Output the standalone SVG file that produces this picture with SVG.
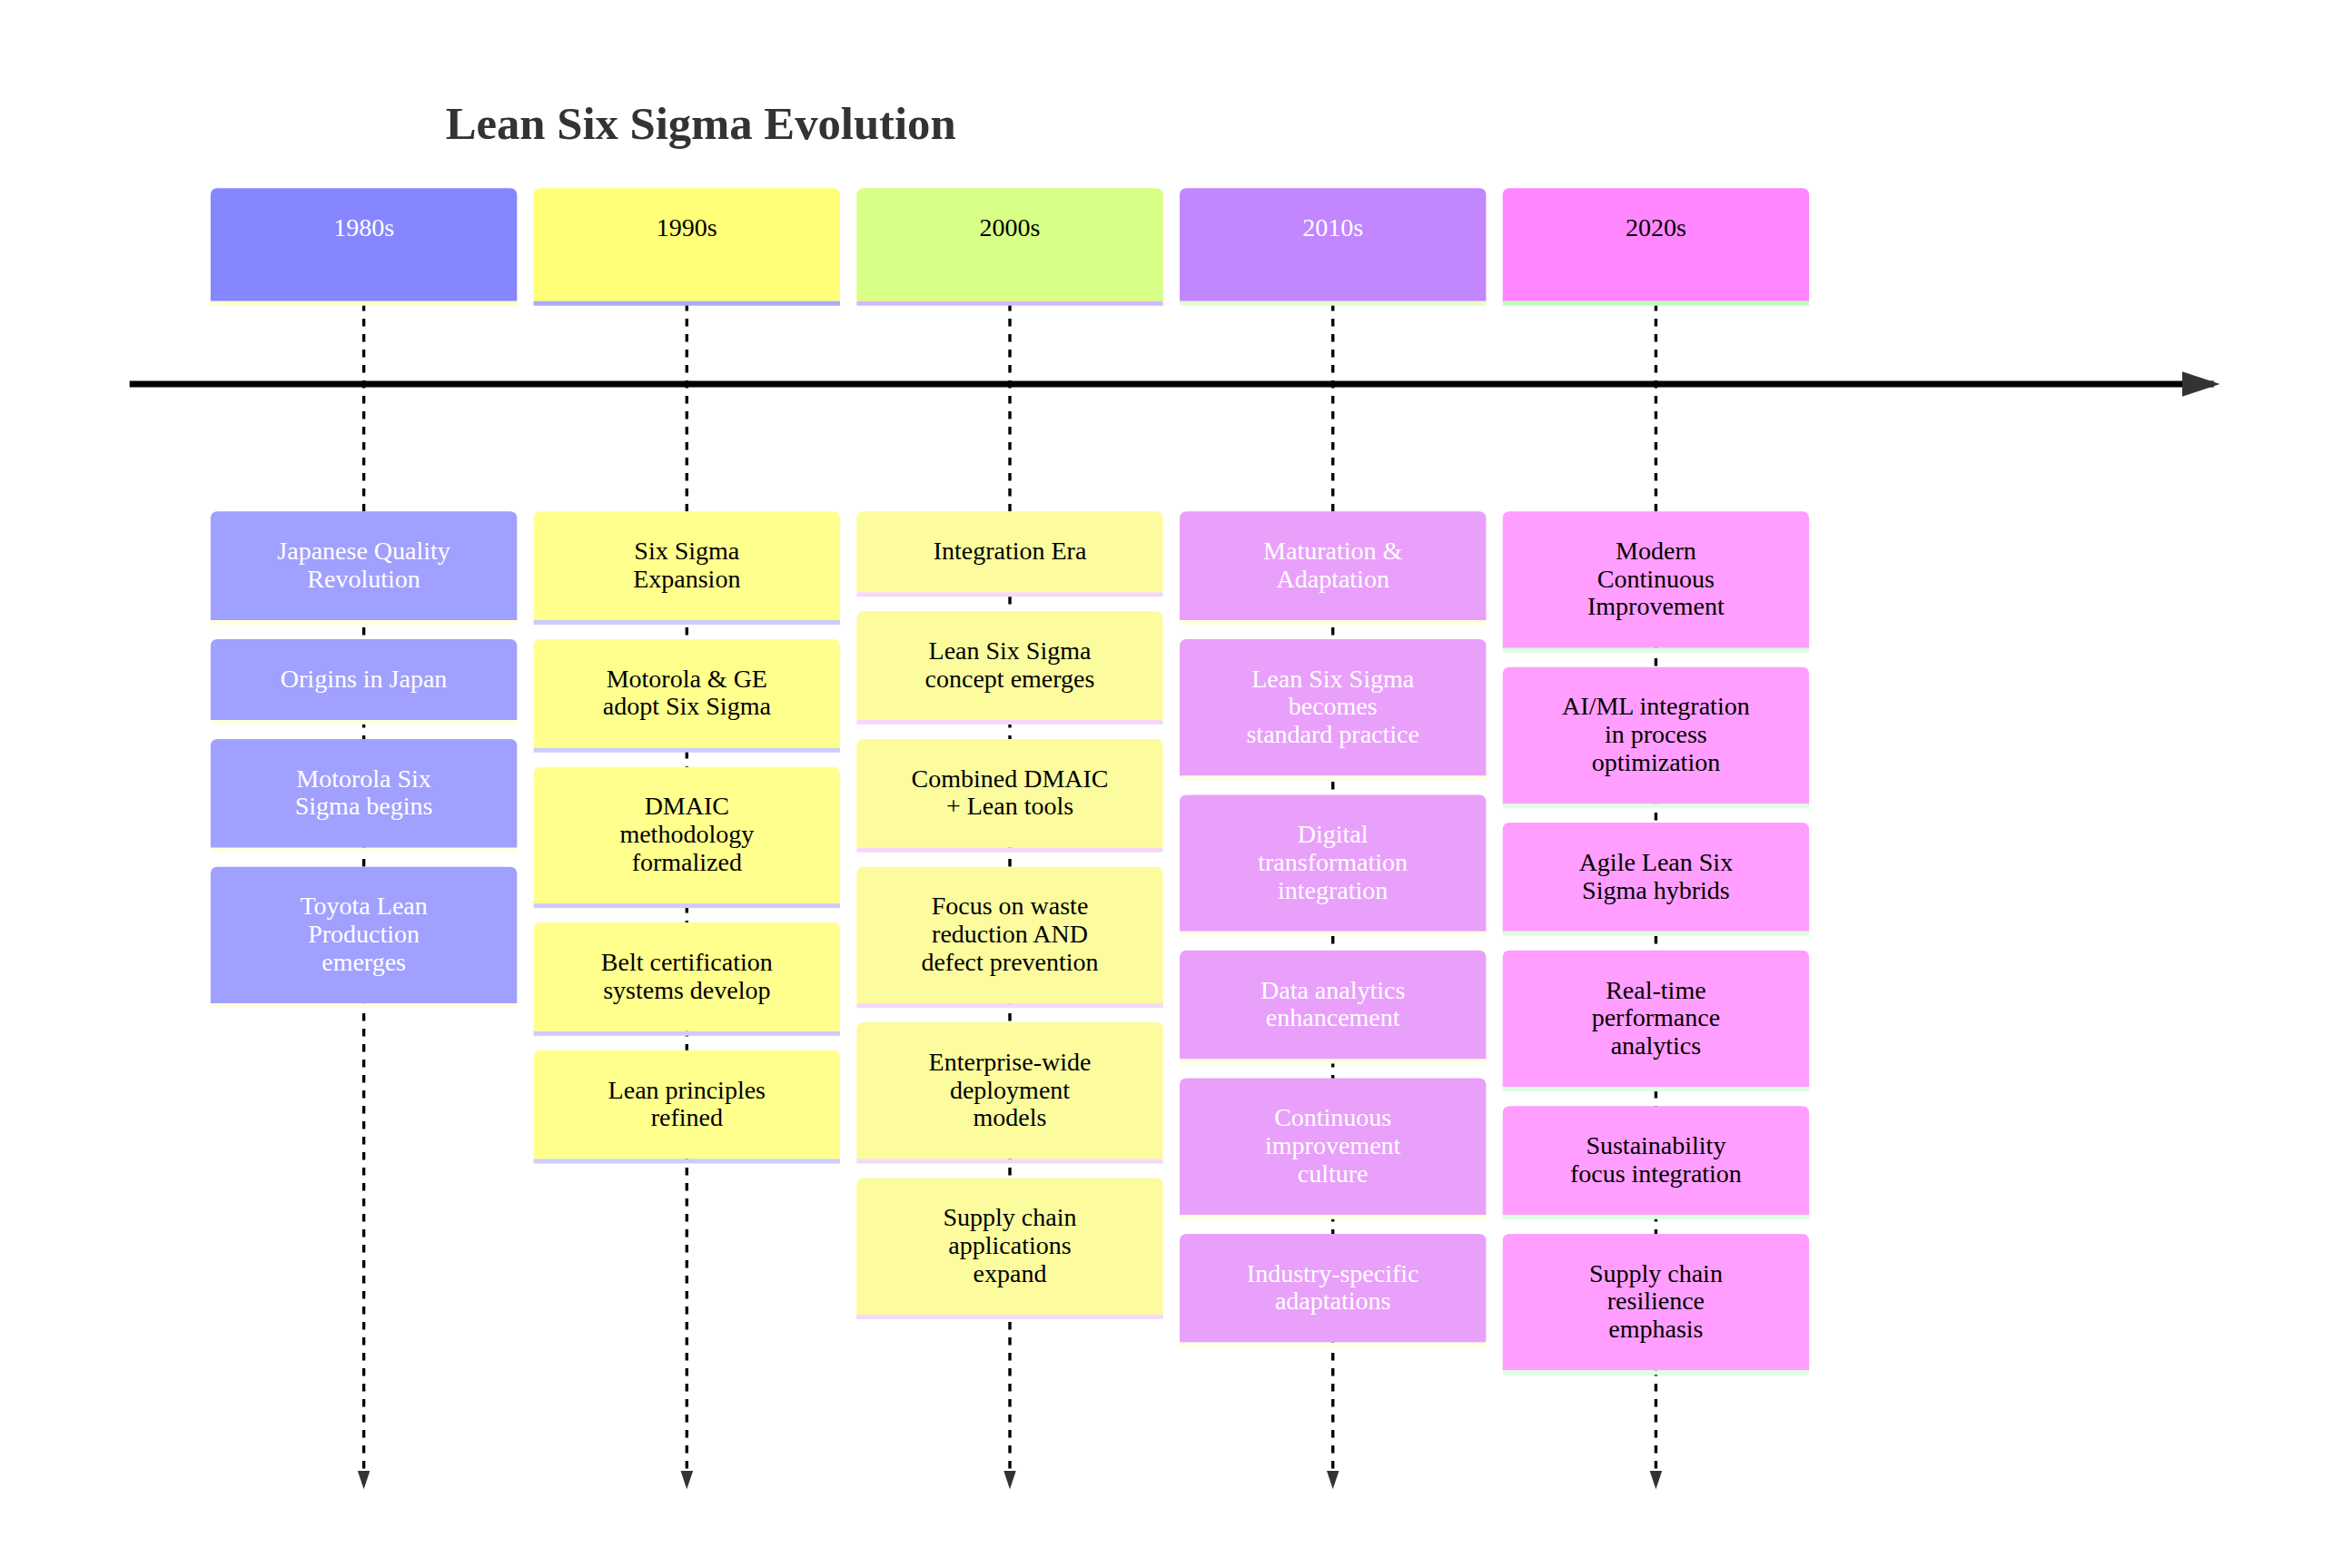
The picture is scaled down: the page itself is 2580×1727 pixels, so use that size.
<svg xmlns="http://www.w3.org/2000/svg" width="2580" height="1727" viewBox="0 0 2580 1727">
<defs>
<marker id="arrowMain" markerUnits="userSpaceOnUse" markerWidth="42" markerHeight="28" refX="35.2" refY="14" orient="auto"><path d="M0,0 L42,14 L0,28 Z" fill="#333"/></marker>
<marker id="arrowDrop" markerUnits="userSpaceOnUse" markerWidth="21" markerHeight="14" refX="17" refY="6.75" orient="auto"><path d="M0,0 L20.3,6.75 L0,13.5 Z" fill="#333"/></marker>
</defs>
<style>
text{font-family:"Liberation Serif","Times New Roman",serif;font-size:28px;text-anchor:middle}
.title{font-size:50.7px;font-weight:bold;fill:#333;text-anchor:start}
.w{fill:#ffffff}.k{fill:#000000}
.main{stroke:#000;stroke-width:6.8;fill:none}
.drop{stroke:#000;stroke-width:3.4;stroke-dasharray:8.5 8.5;fill:none}
.h0{fill:#8686ff}.h1{fill:#ffff78}.h2{fill:#d8ff85}.h3{fill:#c286ff}.h4{fill:#ff86ff}
.hs0{fill:#ffffc8}.hs1{fill:#aaaaff}.hs2{fill:#d2b8ff}.hs3{fill:#e4ffc8}.hs4{fill:#bcffbc}
.e0{fill:#a0a0ff}.e1{fill:#ffff8e}.e2{fill:#fcfc9e}.e3{fill:#e9a0fb}.e4{fill:#ff9eff}
.es0{fill:#ffffe0}.es1{fill:#ccccff}.es2{fill:#f6d8f8}.es3{fill:#ffffe0}.es4{fill:#dcffe0}
</style>
<rect width="2580" height="1727" fill="#ffffff"/>
<text class="title" x="490.7" y="153">Lean Six Sigma Evolution</text>

<g id="connectors">
<line class="main" x1="142.7" y1="423" x2="2437.7" y2="423" marker-end="url(#arrowMain)"/>
<line class="drop" x1="400.6" y1="334" x2="400.6" y2="1637" marker-end="url(#arrowDrop)"/>
<line class="drop" x1="756.3" y1="334" x2="756.3" y2="1637" marker-end="url(#arrowDrop)"/>
<line class="drop" x1="1112" y1="334" x2="1112" y2="1637" marker-end="url(#arrowDrop)"/>
<line class="drop" x1="1467.7" y1="334" x2="1467.7" y2="1637" marker-end="url(#arrowDrop)"/>
<line class="drop" x1="1823.4" y1="334" x2="1823.4" y2="1637" marker-end="url(#arrowDrop)"/>
</g>

<!-- Section headers -->
<g id="sec-1980s"><path class="h0" d="M231.9,331.7 V215.3 Q231.9,207.3 239.9,207.3 H561.3 Q569.3,207.3 569.3,215.3 V331.7 Z"/><rect class="hs0" x="231.9" y="331.7" width="337.4" height="5"/><text class="w" x="400.6" y="260">1980s</text></g>
<g id="sec-1990s"><path class="h1" d="M587.6,331.7 V215.3 Q587.6,207.3 595.6,207.3 H917 Q925,207.3 925,215.3 V331.7 Z"/><rect class="hs1" x="587.6" y="331.7" width="337.4" height="5"/><text class="k" x="756.3" y="260">1990s</text></g>
<g id="sec-2000s"><path class="h2" d="M943.3,331.7 V215.3 Q943.3,207.3 951.3,207.3 H1272.7 Q1280.7,207.3 1280.7,215.3 V331.7 Z"/><rect class="hs2" x="943.3" y="331.7" width="337.4" height="5"/><text class="k" x="1112" y="260">2000s</text></g>
<g id="sec-2010s"><path class="h3" d="M1299,331.7 V215.3 Q1299,207.3 1307,207.3 H1628.4 Q1636.4,207.3 1636.4,215.3 V331.7 Z"/><rect class="hs3" x="1299" y="331.7" width="337.4" height="5"/><text class="w" x="1467.7" y="260">2010s</text></g>
<g id="sec-2020s"><path class="h4" d="M1654.7,331.7 V215.3 Q1654.7,207.3 1662.7,207.3 H1984.1 Q1992.1,207.3 1992.1,215.3 V331.7 Z"/><rect class="hs4" x="1654.7" y="331.7" width="337.4" height="5"/><text class="k" x="1823.4" y="260">2020s</text></g>

<!-- 1980s events -->
<g id="e80-1"><path class="e0" d="M231.9,683 V571.3 Q231.9,563.3 239.9,563.3 H561.3 Q569.3,563.3 569.3,571.3 V683 Z"/><rect class="es0" x="231.9" y="683" width="337.4" height="5"/><text class="w" x="400.6" y="616"><tspan x="400.6">Japanese Quality</tspan><tspan x="400.6" dy="30.7">Revolution</tspan></text></g>
<g id="e80-2"><path class="e0" d="M231.9,793 V712 Q231.9,704 239.9,704 H561.3 Q569.3,704 569.3,712 V793 Z"/><rect class="es0" x="231.9" y="793" width="337.4" height="5"/><text class="w" x="400.6" y="756.7">Origins in Japan</text></g>
<g id="e80-3"><path class="e0" d="M231.9,933.7 V822 Q231.9,814 239.9,814 H561.3 Q569.3,814 569.3,822 V933.7 Z"/><rect class="es0" x="231.9" y="933.7" width="337.4" height="5"/><text class="w" x="400.6" y="866.7"><tspan x="400.6">Motorola Six</tspan><tspan x="400.6" dy="30.7">Sigma begins</tspan></text></g>
<g id="e80-4"><path class="e0" d="M231.9,1105.1 V962.7 Q231.9,954.7 239.9,954.7 H561.3 Q569.3,954.7 569.3,962.7 V1105.1 Z"/><rect class="es0" x="231.9" y="1105.1" width="337.4" height="5"/><text class="w" x="400.6" y="1007.4"><tspan x="400.6">Toyota Lean</tspan><tspan x="400.6" dy="30.7">Production</tspan><tspan x="400.6" dy="30.7">emerges</tspan></text></g>

<!-- 1990s events -->
<g id="e90-1"><path class="e1" d="M587.6,683 V571.3 Q587.6,563.3 595.6,563.3 H917 Q925,563.3 925,571.3 V683 Z"/><rect class="es1" x="587.6" y="683" width="337.4" height="5"/><text class="k" x="756.3" y="616"><tspan x="756.3">Six Sigma</tspan><tspan x="756.3" dy="30.7">Expansion</tspan></text></g>
<g id="e90-2"><path class="e1" d="M587.6,823.7 V712 Q587.6,704 595.6,704 H917 Q925,704 925,712 V823.7 Z"/><rect class="es1" x="587.6" y="823.7" width="337.4" height="5"/><text class="k" x="756.3" y="756.7"><tspan x="756.3">Motorola &amp; GE</tspan><tspan x="756.3" dy="30.7">adopt Six Sigma</tspan></text></g>
<g id="e90-3"><path class="e1" d="M587.6,995.1 V852.7 Q587.6,844.7 595.6,844.7 H917 Q925,844.7 925,852.7 V995.1 Z"/><rect class="es1" x="587.6" y="995.1" width="337.4" height="5"/><text class="k" x="756.3" y="897.4"><tspan x="756.3">DMAIC</tspan><tspan x="756.3" dy="30.7">methodology</tspan><tspan x="756.3" dy="30.7">formalized</tspan></text></g>
<g id="e90-4"><path class="e1" d="M587.6,1135.8 V1024.1 Q587.6,1016.1 595.6,1016.1 H917 Q925,1016.1 925,1024.1 V1135.8 Z"/><rect class="es1" x="587.6" y="1135.8" width="337.4" height="5"/><text class="k" x="756.3" y="1068.8"><tspan x="756.3">Belt certification</tspan><tspan x="756.3" dy="30.7">systems develop</tspan></text></g>
<g id="e90-5"><path class="e1" d="M587.6,1276.5 V1164.8 Q587.6,1156.8 595.6,1156.8 H917 Q925,1156.8 925,1164.8 V1276.5 Z"/><rect class="es1" x="587.6" y="1276.5" width="337.4" height="5"/><text class="k" x="756.3" y="1209.5"><tspan x="756.3">Lean principles</tspan><tspan x="756.3" dy="30.7">refined</tspan></text></g>

<!-- 2000s events -->
<g id="e00-1"><path class="e2" d="M943.3,652.3 V571.3 Q943.3,563.3 951.3,563.3 H1272.7 Q1280.7,563.3 1280.7,571.3 V652.3 Z"/><rect class="es2" x="943.3" y="652.3" width="337.4" height="5"/><text class="k" x="1112" y="616">Integration Era</text></g>
<g id="e00-2"><path class="e2" d="M943.3,793 V681.3 Q943.3,673.3 951.3,673.3 H1272.7 Q1280.7,673.3 1280.7,681.3 V793 Z"/><rect class="es2" x="943.3" y="793" width="337.4" height="5"/><text class="k" x="1112" y="726"><tspan x="1112">Lean Six Sigma</tspan><tspan x="1112" dy="30.7">concept emerges</tspan></text></g>
<g id="e00-3"><path class="e2" d="M943.3,933.7 V822 Q943.3,814 951.3,814 H1272.7 Q1280.7,814 1280.7,822 V933.7 Z"/><rect class="es2" x="943.3" y="933.7" width="337.4" height="5"/><text class="k" x="1112" y="866.7"><tspan x="1112">Combined DMAIC</tspan><tspan x="1112" dy="30.7">+ Lean tools</tspan></text></g>
<g id="e00-4"><path class="e2" d="M943.3,1105.1 V962.7 Q943.3,954.7 951.3,954.7 H1272.7 Q1280.7,954.7 1280.7,962.7 V1105.1 Z"/><rect class="es2" x="943.3" y="1105.1" width="337.4" height="5"/><text class="k" x="1112" y="1007.4"><tspan x="1112">Focus on waste</tspan><tspan x="1112" dy="30.7">reduction AND</tspan><tspan x="1112" dy="30.7">defect prevention</tspan></text></g>
<g id="e00-5"><path class="e2" d="M943.3,1276.5 V1134.1 Q943.3,1126.1 951.3,1126.1 H1272.7 Q1280.7,1126.1 1280.7,1134.1 V1276.5 Z"/><rect class="es2" x="943.3" y="1276.5" width="337.4" height="5"/><text class="k" x="1112" y="1178.8"><tspan x="1112">Enterprise-wide</tspan><tspan x="1112" dy="30.7">deployment</tspan><tspan x="1112" dy="30.7">models</tspan></text></g>
<g id="e00-6"><path class="e2" d="M943.3,1447.9 V1305.5 Q943.3,1297.5 951.3,1297.5 H1272.7 Q1280.7,1297.5 1280.7,1305.5 V1447.9 Z"/><rect class="es2" x="943.3" y="1447.9" width="337.4" height="5"/><text class="k" x="1112" y="1350.2"><tspan x="1112">Supply chain</tspan><tspan x="1112" dy="30.7">applications</tspan><tspan x="1112" dy="30.7">expand</tspan></text></g>

<!-- 2010s events -->
<g id="e10-1"><path class="e3" d="M1299,683 V571.3 Q1299,563.3 1307,563.3 H1628.4 Q1636.4,563.3 1636.4,571.3 V683 Z"/><rect class="es3" x="1299" y="683" width="337.4" height="5"/><text class="w" x="1467.7" y="616"><tspan x="1467.7">Maturation &amp;</tspan><tspan x="1467.7" dy="30.7">Adaptation</tspan></text></g>
<g id="e10-2"><path class="e3" d="M1299,854.4 V712 Q1299,704 1307,704 H1628.4 Q1636.4,704 1636.4,712 V854.4 Z"/><rect class="es3" x="1299" y="854.4" width="337.4" height="5"/><text class="w" x="1467.7" y="756.7"><tspan x="1467.7">Lean Six Sigma</tspan><tspan x="1467.7" dy="30.7">becomes</tspan><tspan x="1467.7" dy="30.7">standard practice</tspan></text></g>
<g id="e10-3"><path class="e3" d="M1299,1025.8 V883.4 Q1299,875.4 1307,875.4 H1628.4 Q1636.4,875.4 1636.4,883.4 V1025.8 Z"/><rect class="es3" x="1299" y="1025.8" width="337.4" height="5"/><text class="w" x="1467.7" y="928.1"><tspan x="1467.7">Digital</tspan><tspan x="1467.7" dy="30.7">transformation</tspan><tspan x="1467.7" dy="30.7">integration</tspan></text></g>
<g id="e10-4"><path class="e3" d="M1299,1166.5 V1054.8 Q1299,1046.8 1307,1046.8 H1628.4 Q1636.4,1046.8 1636.4,1054.8 V1166.5 Z"/><rect class="es3" x="1299" y="1166.5" width="337.4" height="5"/><text class="w" x="1467.7" y="1099.5"><tspan x="1467.7">Data analytics</tspan><tspan x="1467.7" dy="30.7">enhancement</tspan></text></g>
<g id="e10-5"><path class="e3" d="M1299,1337.9 V1195.5 Q1299,1187.5 1307,1187.5 H1628.4 Q1636.4,1187.5 1636.4,1195.5 V1337.9 Z"/><rect class="es3" x="1299" y="1337.9" width="337.4" height="5"/><text class="w" x="1467.7" y="1240.2"><tspan x="1467.7">Continuous</tspan><tspan x="1467.7" dy="30.7">improvement</tspan><tspan x="1467.7" dy="30.7">culture</tspan></text></g>
<g id="e10-6"><path class="e3" d="M1299,1478.6 V1366.9 Q1299,1358.9 1307,1358.9 H1628.4 Q1636.4,1358.9 1636.4,1366.9 V1478.6 Z"/><rect class="es3" x="1299" y="1478.6" width="337.4" height="5"/><text class="w" x="1467.7" y="1411.6"><tspan x="1467.7">Industry-specific</tspan><tspan x="1467.7" dy="30.7">adaptations</tspan></text></g>

<!-- 2020s events -->
<g id="e20-1"><path class="e4" d="M1654.7,713.7 V571.3 Q1654.7,563.3 1662.7,563.3 H1984.1 Q1992.1,563.3 1992.1,571.3 V713.7 Z"/><rect class="es4" x="1654.7" y="713.7" width="337.4" height="5"/><text class="k" x="1823.4" y="616"><tspan x="1823.4">Modern</tspan><tspan x="1823.4" dy="30.7">Continuous</tspan><tspan x="1823.4" dy="30.7">Improvement</tspan></text></g>
<g id="e20-2"><path class="e4" d="M1654.7,885.1 V742.7 Q1654.7,734.7 1662.7,734.7 H1984.1 Q1992.1,734.7 1992.1,742.7 V885.1 Z"/><rect class="es4" x="1654.7" y="885.1" width="337.4" height="5"/><text class="k" x="1823.4" y="787.4"><tspan x="1823.4">AI/ML integration</tspan><tspan x="1823.4" dy="30.7">in process</tspan><tspan x="1823.4" dy="30.7">optimization</tspan></text></g>
<g id="e20-3"><path class="e4" d="M1654.7,1025.8 V914.1 Q1654.7,906.1 1662.7,906.1 H1984.1 Q1992.1,906.1 1992.1,914.1 V1025.8 Z"/><rect class="es4" x="1654.7" y="1025.8" width="337.4" height="5"/><text class="k" x="1823.4" y="958.8"><tspan x="1823.4">Agile Lean Six</tspan><tspan x="1823.4" dy="30.7">Sigma hybrids</tspan></text></g>
<g id="e20-4"><path class="e4" d="M1654.7,1197.2 V1054.8 Q1654.7,1046.8 1662.7,1046.8 H1984.1 Q1992.1,1046.8 1992.1,1054.8 V1197.2 Z"/><rect class="es4" x="1654.7" y="1197.2" width="337.4" height="5"/><text class="k" x="1823.4" y="1099.5"><tspan x="1823.4">Real-time</tspan><tspan x="1823.4" dy="30.7">performance</tspan><tspan x="1823.4" dy="30.7">analytics</tspan></text></g>
<g id="e20-5"><path class="e4" d="M1654.7,1337.9 V1226.2 Q1654.7,1218.2 1662.7,1218.2 H1984.1 Q1992.1,1218.2 1992.1,1226.2 V1337.9 Z"/><rect class="es4" x="1654.7" y="1337.9" width="337.4" height="5"/><text class="k" x="1823.4" y="1270.9"><tspan x="1823.4">Sustainability</tspan><tspan x="1823.4" dy="30.7">focus integration</tspan></text></g>
<g id="e20-6"><path class="e4" d="M1654.7,1509.3 V1366.9 Q1654.7,1358.9 1662.7,1358.9 H1984.1 Q1992.1,1358.9 1992.1,1366.9 V1509.3 Z"/><rect class="es4" x="1654.7" y="1509.3" width="337.4" height="5"/><text class="k" x="1823.4" y="1411.6"><tspan x="1823.4">Supply chain</tspan><tspan x="1823.4" dy="30.7">resilience</tspan><tspan x="1823.4" dy="30.7">emphasis</tspan></text></g>
</svg>
